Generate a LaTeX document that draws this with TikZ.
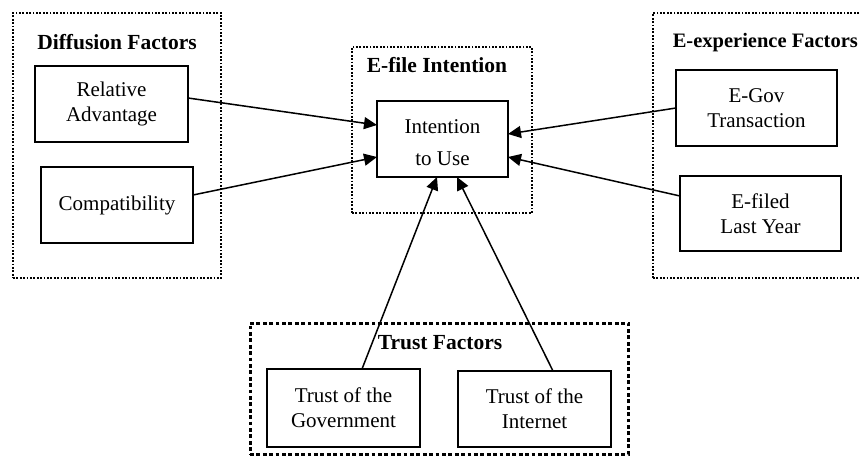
\documentclass[tikz,border=0pt]{standalone}
\usepackage{fontspec}
\setmainfont{Liberation Serif}
\usetikzlibrary{arrows.meta}
\tikzset{
  factor/.style={draw, line width=1.8pt, inner sep=0pt, outer sep=0pt, align=center,
    font=\fontsize{21}{25}\selectfont},
  plaintext/.style={inner sep=0pt, outer sep=0pt, align=center, font=\fontsize{21}{25}\selectfont},
  groupbox/.style={draw, line width=2pt, dash pattern=on 1.8pt off 1.6pt, inner sep=0pt, outer sep=0pt},
  trustbox/.style={draw, line width=3pt, dash pattern=on 3.8pt off 2.6pt, inner sep=0pt, outer sep=0pt},
  grouptitle/.style={font=\fontsize{21.5}{25}\selectfont\bfseries, inner sep=0pt},
  arr/.style={line width=1.5pt, -{Triangle[length=13pt,width=12pt]}}
}
\begin{document}
\begin{tikzpicture}[x=1pt,y=-1pt]
\useasboundingbox (0,0) rectangle (860,460);
\clip (0,0) rectangle (860,460);
% group containers
\node[groupbox, minimum width=208pt, minimum height=265pt] (diff) at (117,145.5) {};
\node[groupbox, minimum width=180pt, minimum height=166pt] (efile) at (442,130) {};
\node[groupbox, minimum width=217pt, minimum height=265pt] (eexp) at (761.5,145.5) {};
\node[trustbox, minimum width=378pt, minimum height=131pt] (trust) at (439,388.5) {};
% titles
\node[grouptitle] (tdiff) at (117,42) {Diffusion Factors};
\node[grouptitle] (tefile) at (437,65) {E-file Intention};
\node[grouptitle, anchor=east, font=\fontsize{20.5}{25}\selectfont\bfseries] (teexp) at (858,43) {E-experience Factors};
\node[grouptitle] (ttrust) at (440,343) {Trust Factors};
% factor boxes
\node[factor, minimum width=153pt, minimum height=76pt] (ra) at (111.5,104) {Relative\\Advantage};
\node[factor, minimum width=152pt, minimum height=76pt] (comp) at (117,205) {Compatibility};
\node[factor, minimum width=131pt, minimum height=76pt] (int) at (442.5,139) {};
\node[plaintext] (inttext) at ([yshift=-4pt]int.center) {Intention\\[7pt]to Use};
\node[factor, minimum width=161pt, minimum height=76pt] (egov) at (756.5,108) {E-Gov\\Transaction};
\node[factor, minimum width=161pt, minimum height=75pt] (efiled) at (760.5,213.5) {E-filed\\Last Year};
\node[factor, minimum width=153pt, minimum height=78pt] (gov) at (343.5,408) {Trust of the\\Government};
\node[factor, minimum width=153pt, minimum height=76pt] (inet) at (534.5,409) {Trust of the\\Internet};
% connectors
\draw[arr] ([yshift=6pt]ra.east) -- ([yshift=14pt]int.west);
\draw[arr] ([yshift=10pt]comp.east) -- ([yshift=-18pt]int.west);
\draw[arr] (egov.west) -- ([yshift=5pt]int.east);
\draw[arr] ([yshift=17.5pt]efiled.west) -- ([yshift=-18pt]int.east);
\draw[arr] ([xshift=18.5pt]gov.north) -- ([xshift=-5.5pt]int.south);
\draw[arr] ([xshift=18.5pt]inet.north) -- ([xshift=14.5pt]int.south);
\end{tikzpicture}
\end{document}
